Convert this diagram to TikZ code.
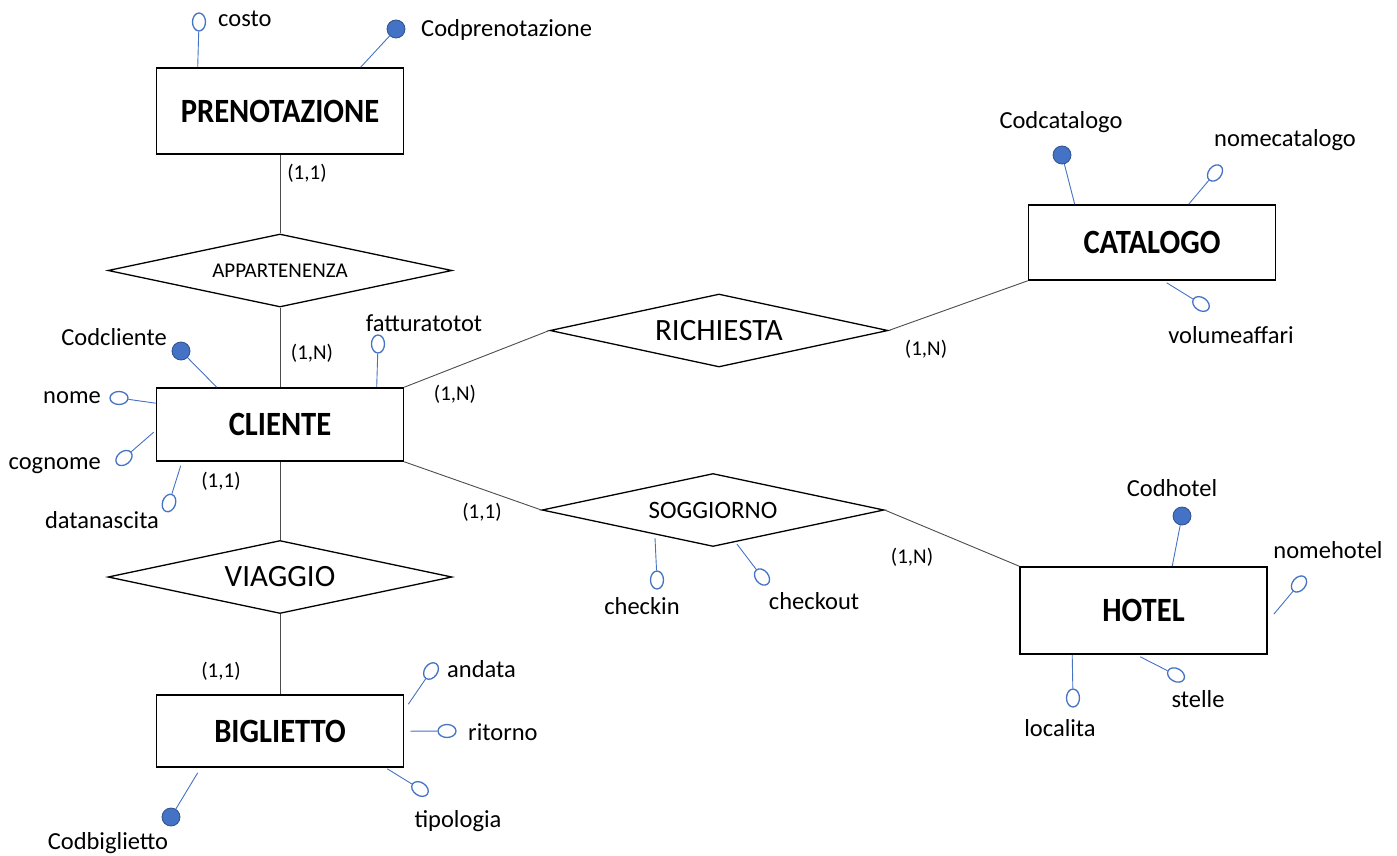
\documentclass[tikz,border=0pt]{standalone}
\usepackage{fontspec}
\setmainfont{Carlito}
\newfontfamily\entityfont{Carlito}[FakeStretch=0.9]
\usetikzlibrary{shapes.geometric}
\definecolor{attrblue}{HTML}{4472C4}
\definecolor{keyedge}{HTML}{2F528F}
\tikzset{
  entity/.style={draw, line width=1.6pt, minimum width=247pt, inner sep=0pt,
    font=\entityfont\fontsize{34}{38}\selectfont\bfseries},
  relation/.style={draw, diamond, line width=1.3pt, minimum width=344pt,
    minimum height=73pt, aspect=4.7, inner sep=0pt},
  attr/.style={draw=attrblue, ellipse, line width=1.3pt, minimum width=13pt,
    minimum height=18pt, inner sep=0pt},
  keyattr/.style={draw=keyedge, fill=attrblue, circle, line width=0.8pt,
    minimum size=18pt, inner sep=0pt},
  attrline/.style={attrblue, line width=0.9pt},
  link/.style={draw=black!70, line width=0.9pt},
  attrtext/.style={font=\fontsize{24.5}{28}\selectfont, inner sep=0pt},
  card/.style={font=\fontsize{21}{24}\selectfont, inner sep=0pt}
}
\begin{document}
\begin{tikzpicture}[x=1pt,y=-1pt]
\useasboundingbox (0,0) rectangle (1397,856);

\node[entity, minimum height=86pt] (prenotazione) at (280,111) {PRENOTAZIONE};
\node[entity, minimum height=73pt] (cliente) at (280,424.5) {CLIENTE};
\node[entity, minimum height=72pt] (biglietto) at (280,731) {BIGLIETTO};
\node[entity, minimum height=75pt] (catalogo) at (1152,242.5) {CATALOGO};
\node[entity, minimum height=87pt] (hotel) at (1143.5,610.5) {HOTEL};

\node[relation, font=\fontsize{21}{24}\selectfont] (appartenenza) at (280,270.5) {APPARTENENZA};
\node[relation, font=\fontsize{31}{34}\selectfont] (viaggio) at (280,577) {VIAGGIO};
\node[relation, minimum width=338pt, font=\fontsize{31}{34}\selectfont] (richiesta) at (719,330.5) {RICHIESTA};
\node[relation, minimum width=342pt, font=\fontsize{25}{28}\selectfont] (soggiorno) at (713,510) {SOGGIORNO};

\draw[link] (prenotazione) -- (appartenenza);
\draw[link] (appartenenza) -- (cliente);
\draw[link] (cliente) -- (viaggio);
\draw[link] (viaggio) -- (biglietto);
\draw[link] (cliente.north east) -- (richiesta.west);
\draw[link] (richiesta.east) -- (catalogo.south west);
\draw[link] (cliente.south east) -- (soggiorno.west);
\draw[link] (soggiorno.east) -- (hotel.north west);

\node[card] (card-pre) at (307,173) {(1,1)};
\node[card] (card-cli-app) at (312,353) {(1,N)};
\node[card] (card-cli-via) at (221,481) {(1,1)};
\node[card] (card-big) at (221,671) {(1,1)};
\node[card] (card-cli-ric) at (455,394) {(1,N)};
\node[card] (card-cat) at (926,349) {(1,N)};
\node[card] (card-cli-sog) at (482,512) {(1,1)};
\node[card] (card-hot) at (912,557) {(1,N)};

\node[attr] (a-costo) at (199,22) {};
\node[keyattr] (k-prenotazione) at (396,29) {};
\node[keyattr] (k-cliente) at (181,351) {};
\node[attr, rotate=90] (a-nome) at (119,398) {};
\node[attr, rotate=-51] (a-cognome) at (124,458) {};
\node[attr, rotate=-19] (a-datanascita) at (169,503) {};
\node[attr] (a-fatturato) at (378,344) {};
\node[attr] (a-checkin) at (657,580) {};
\node[attr, rotate=38] (a-checkout) at (762,577) {};
\node[keyattr] (k-catalogo) at (1062,155) {};
\node[attr, rotate=-38] (a-nomecatalogo) at (1215,173) {};
\node[attr, rotate=56] (a-volume) at (1201,304) {};
\node[keyattr] (k-hotel) at (1182,516) {};
\node[attr, rotate=-40] (a-nomehotel) at (1299,584) {};
\node[attr, rotate=61] (a-stelle) at (1176,675) {};
\node[attr] (a-localita) at (1073,698) {};
\node[attr, rotate=-35] (a-andata) at (431,671) {};
\node[attr, rotate=90] (a-ritorno) at (447,731) {};
\node[attr, rotate=56] (a-tipologia) at (420,789) {};
\node[keyattr] (k-biglietto) at (171,817) {};

\draw[attrline] (a-costo) -- ([xshift=42pt]prenotazione.north west);
\draw[attrline] (k-prenotazione) -- ([xshift=205pt]prenotazione.north west);
\draw[attrline] (k-cliente) -- ([xshift=61pt]cliente.north west);
\draw[attrline] (a-nome) -- ([yshift=-16pt]cliente.north west);
\draw[attrline] (a-cognome) -- ([xshift=-2pt,yshift=-45pt]cliente.north west);
\draw[attrline] (a-datanascita) -- ([xshift=25pt,yshift=-4pt]cliente.south west);
\draw[attrline] (a-fatturato) -- ([xshift=221pt]cliente.north west);
\draw[attrline] (a-checkin) -- ([xshift=-58pt,yshift=9pt]soggiorno.south);
\draw[attrline] (a-checkout) -- ([xshift=24pt,yshift=3pt]soggiorno.south);
\draw[attrline] (k-catalogo) -- ([xshift=47pt]catalogo.north west);
\draw[attrline] (a-nomecatalogo) -- ([xshift=161pt]catalogo.north west);
\draw[attrline] (a-volume) -- ([xshift=139pt,yshift=-2pt]catalogo.south west);
\draw[attrline] (k-hotel) -- ([xshift=153pt]hotel.north west);
\draw[attrline] (a-nomehotel) -- ([xshift=6pt,yshift=-48pt]hotel.north east);
\draw[attrline] (a-stelle) -- ([xshift=121pt,yshift=-2pt]hotel.south west);
\draw[attrline] (a-localita) -- ([xshift=53pt]hotel.south west);
\draw[attrline] (a-andata) -- ([xshift=4pt,yshift=-10pt]biglietto.north east);
\draw[attrline] (a-ritorno) -- ([xshift=6pt,yshift=-37pt]biglietto.north east);
\draw[attrline] (a-tipologia) -- ([xshift=-17pt,yshift=-1pt]biglietto.south east);
\draw[attrline] (k-biglietto) -- ([xshift=42pt,yshift=-5pt]biglietto.south west);

\node[attrtext, anchor=west] (t-costo) at (218,19) {costo};
\node[attrtext, anchor=west] (t-codprenotazione) at (421,30) {Codprenotazione};
\node[attrtext, anchor=east] (t-codcliente) at (167,337) {Codcliente};
\node[attrtext, anchor=east] (t-nome) at (101,398) {nome};
\node[attrtext, anchor=east] (t-cognome) at (101,466) {cognome};
\node[attrtext] (t-datanascita) at (102,520) {datanascita};
\node[attrtext] (t-fatturato) at (424,323) {fatturatotot};
\node[attrtext] (t-checkin) at (642,606) {checkin};
\node[attrtext] (t-checkout) at (814,601) {checkout};
\node[attrtext] (t-codcatalogo) at (1061,122) {Codcatalogo};
\node[attrtext] (t-nomecatalogo) at (1285,140) {nomecatalogo};
\node[attrtext] (t-volume) at (1231,335) {volumeaffari};
\node[attrtext] (t-codhotel) at (1172,488) {Codhotel};
\node[attrtext] (t-nomehotel) at (1328,550) {nomehotel};
\node[attrtext] (t-stelle) at (1198,699) {stelle};
\node[attrtext] (t-localita) at (1060,728) {localita};
\node[attrtext, anchor=west] (t-andata) at (447,669) {andata};
\node[attrtext, anchor=west] (t-ritorno) at (468,732) {ritorno};
\node[attrtext] (t-tipologia) at (458,821) {tipologia};
\node[attrtext] (t-codbiglietto) at (108,843) {Codbiglietto};
\end{tikzpicture}
\end{document}
